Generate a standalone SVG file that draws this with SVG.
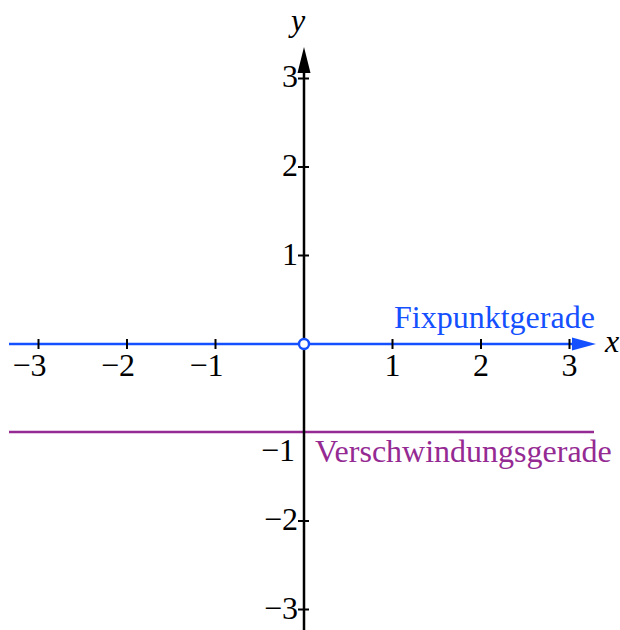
<svg xmlns="http://www.w3.org/2000/svg" width="620" height="630" viewBox="0 0 620 630">
<style>
.num{font-family:"Liberation Serif","Times New Roman",serif;font-size:32px;fill:#000}
.var{font-family:"Liberation Serif","Times New Roman",serif;font-size:32px;font-style:italic;fill:#000}
.lbl{font-family:"Liberation Serif","Times New Roman",serif;font-size:32px}
.tick{stroke:#000;stroke-width:2}
</style>
<rect width="620" height="630" fill="#fff"/>
<g id="connectors">
  <line id="vline" x1="9" y1="432" x2="594" y2="432" stroke="#952a93" stroke-width="2.5"/>
  <line id="xaxis" x1="9" y1="344" x2="578" y2="344" stroke="#1450ff" stroke-width="2.5"/>
  <polygon points="596,344 572,337.5 572,350.5" fill="#1450ff"/>
  <line id="yaxis" x1="304" y1="630" x2="304" y2="70" stroke="#000" stroke-width="2.5"/>
  <polygon points="304,47 297.5,73 310.5,73" fill="#000"/>
  <g id="xticks">
    <line class="tick" x1="38.5" y1="339" x2="38.5" y2="349"/>
    <line class="tick" x1="127" y1="339" x2="127" y2="349"/>
    <line class="tick" x1="215.5" y1="339" x2="215.5" y2="349"/>
    <line class="tick" x1="392.5" y1="339" x2="392.5" y2="349"/>
    <line class="tick" x1="481" y1="339" x2="481" y2="349"/>
    <line class="tick" x1="569.5" y1="339" x2="569.5" y2="349"/>
  </g>
  <g id="yticks">
    <line class="tick" x1="298" y1="78.5" x2="309" y2="78.5"/>
    <line class="tick" x1="298" y1="167" x2="309" y2="167"/>
    <line class="tick" x1="298" y1="255.5" x2="309" y2="255.5"/>
    <line class="tick" x1="298" y1="521" x2="309" y2="521"/>
    <line class="tick" x1="298" y1="609.5" x2="309" y2="609.5"/>
  </g>
</g>
<g id="origin">
  <circle cx="304" cy="344" r="5" fill="#fff" stroke="#1450ff" stroke-width="2.4"/>
</g>
<g id="xlabels">
  <text x="46.5" y="376" text-anchor="end" class="num">−3</text>
  <text x="135" y="376" text-anchor="end" class="num">−2</text>
  <text x="223.5" y="376" text-anchor="end" class="num">−1</text>
  <text x="392.5" y="376" text-anchor="middle" class="num">1</text>
  <text x="481" y="376" text-anchor="middle" class="num">2</text>
  <text x="569.5" y="376" text-anchor="middle" class="num">3</text>
</g>
<g id="ylabels">
  <text x="298" y="87" text-anchor="end" class="num">3</text>
  <text x="298" y="176" text-anchor="end" class="num">2</text>
  <text x="298" y="264.5" text-anchor="end" class="num">1</text>
  <text x="295" y="461" text-anchor="end" class="num">−1</text>
  <text x="298" y="530" text-anchor="end" class="num">−2</text>
  <text x="298" y="618.5" text-anchor="end" class="num">−3</text>
</g>
<g id="axis-names">
  <text x="291" y="31" class="var">y</text>
  <text x="605" y="352" class="var">x</text>
</g>
<g id="fixpunktgerade">
  <text x="394" y="328" class="lbl" fill="#1450ff">Fixpunktgerade</text>
</g>
<g id="verschwindungsgerade">
  <text x="315" y="462" class="lbl" fill="#952a93">Verschwindungsgerade</text>
</g>
</svg>
